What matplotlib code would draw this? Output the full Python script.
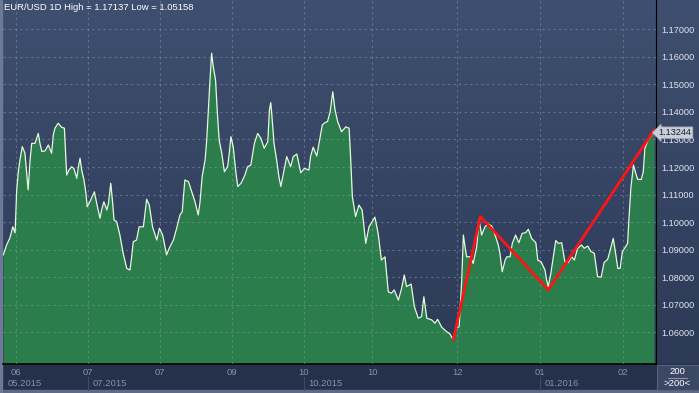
import numpy as np
import matplotlib.pyplot as plt
from matplotlib.patches import Rectangle
from matplotlib.colors import LinearSegmentedColormap

# EUR/USD daily closes, position in bars from the left edge of the chart
bar_pos = [0.1, 1.1, 2.1, 3.0, 3.7, 4.2, 4.7, 5.2, 5.9, 6.7, 7.3, 7.7, 8.3, 8.8, 9.8,
           10.3, 10.8, 11.3, 11.9, 12.9, 13.9, 14.9, 15.4, 15.9, 16.9, 18.0, 18.8, 19.5,
           20.2, 21.0, 21.7, 22.6, 23.1, 23.6, 24.1, 24.8, 25.4, 25.8, 26.6, 28.0, 28.7,
           29.7, 30.2, 30.9, 31.8, 32.3, 33.0, 33.6, 34.0, 34.8, 35.8, 36.8, 37.9, 38.9,
           39.4, 39.9, 40.9, 41.7, 43.0, 44.0, 44.8, 45.8, 47.1, 47.9, 48.9, 50.1, 50.9,
           52.2, 53.2, 54.2, 54.9, 55.7, 56.8, 57.8, 58.8, 59.8, 60.3, 61.0, 61.9, 62.4,
           62.9, 63.4, 63.9, 64.4, 65.1, 65.6, 66.2, 67.0, 67.8, 68.8, 69.3, 69.8, 70.5,
           71.3, 71.9, 72.9, 74.1, 74.9, 75.9, 77.0, 78.0, 79.0, 80.0, 81.1, 81.6, 82.0,
           82.3, 83.0, 83.8, 84.5, 85.1, 85.9, 86.9, 88.1, 88.9, 90.0, 91.2, 92.3, 93.7,
           94.2, 95.0, 96.1, 96.8, 97.8, 98.6, 99.4, 100.2, 101.0, 101.7, 102.5, 103.7,
           105.0, 106.0, 106.5, 107.0, 108.0, 109.0, 110.0, 111.1, 112.1, 113.9, 114.9,
           115.9, 117.0, 118.0, 119.0, 119.8, 121.1, 122.1, 122.9, 123.6, 125.0, 126.0,
           127.2, 128.2, 128.9, 129.8, 131.3, 132.3, 133.1, 134.4, 135.9, 136.9, 137.9,
           138.7, 139.7, 140.5, 141.0, 141.5, 142.0, 143.2, 144.0, 145.1, 145.8, 146.6,
           147.6, 148.6, 149.7, 150.7, 151.7, 152.2, 152.9, 153.8, 154.3, 155.3, 156.0,
           157.0, 158.0, 159.0, 160.1, 160.9, 161.9, 163.2, 163.8, 164.8, 166.0, 166.5,
           167.0, 167.8, 168.5, 169.3, 170.1, 171.1, 172.1, 173.1, 174.2, 175.0, 176.0,
           177.2, 178.0, 179.1, 180.1, 181.1, 182.1, 183.2, 184.1, 185.2, 186.0, 186.9,
           187.7, 188.3, 189.0, 189.7, 190.7, 191.3, 191.7, 192.3, 193.1, 193.8, 194.4,
           195.5, 196.1, 196.6, 197.6, 198.7, 199.4]
close = [1.0881, 1.0917, 1.0942, 1.0983, 1.0961, 1.1117, 1.1183, 1.1226, 1.1274, 1.1251,
         1.1171, 1.1117, 1.1226, 1.1286, 1.1286, 1.1304, 1.1322, 1.1287, 1.1256, 1.1259,
         1.1280, 1.1250, 1.1316, 1.1341, 1.1359, 1.1344, 1.1341, 1.1171, 1.1189, 1.1201,
         1.1195, 1.1159, 1.1201, 1.1232, 1.1189, 1.1153, 1.1105, 1.1056, 1.1074, 1.1110,
         1.1068, 1.1014, 1.1044, 1.1074, 1.1044, 1.1068, 1.1141, 1.1068, 1.1008, 1.1002,
         1.0953, 1.0887, 1.0832, 1.0826, 1.0874, 1.0929, 1.0935, 1.0983, 1.0983, 1.1083,
         1.1062, 1.0983, 1.0935, 1.0978, 1.0953, 1.0881, 1.0905, 1.0935, 1.0978, 1.1026,
         1.1038, 1.1153, 1.1147, 1.1110, 1.1074, 1.1026, 1.1068, 1.1165, 1.1226, 1.1298,
         1.1407, 1.1516, 1.1613, 1.1564, 1.1516, 1.1407, 1.1298, 1.1250, 1.1183, 1.1201,
         1.1250, 1.1310, 1.1274, 1.1183, 1.1129, 1.1141, 1.1171, 1.1201, 1.1207, 1.1286,
         1.1322, 1.1304, 1.1268, 1.1292, 1.1407, 1.1434, 1.1395, 1.1286, 1.1226, 1.1165,
         1.1129, 1.1177, 1.1238, 1.1201, 1.1238, 1.1247, 1.1179, 1.1195, 1.1189, 1.1238,
         1.1272, 1.1240, 1.1286, 1.1353, 1.1361, 1.1365, 1.1401, 1.1473, 1.1407, 1.1365,
         1.1328, 1.1346, 1.1341, 1.1226, 1.1092, 1.1020, 1.1062, 1.1044, 1.0923, 1.0983,
         1.1018, 1.0959, 1.0862, 1.0874, 1.0747, 1.0742, 1.0754, 1.0717, 1.0760, 1.0808,
         1.0766, 1.0775, 1.0693, 1.0651, 1.0657, 1.0729, 1.0651, 1.0645, 1.0633, 1.0647,
         1.0618, 1.0602, 1.0594, 1.0572, 1.0615, 1.0620, 1.0790, 1.0953, 1.0911, 1.0874,
         1.0874, 1.0850, 1.0911, 1.1008, 1.0953, 1.0983, 1.0993, 1.0986, 1.0953, 1.0917,
         1.0887, 1.0820, 1.0862, 1.0874, 1.0874, 1.0923, 1.0953, 1.0925, 1.0959, 1.0962,
         1.0974, 1.0941, 1.0925, 1.0862, 1.0856, 1.0826, 1.0790, 1.0766, 1.0814, 1.0869,
         1.0933, 1.0923, 1.0925, 1.0856, 1.0853, 1.0874, 1.0862, 1.0905, 1.0917, 1.0905,
         1.0913, 1.0893, 1.0887, 1.0802, 1.0800, 1.0853, 1.0865, 1.0899, 1.0941, 1.0881,
         1.0832, 1.0832, 1.0893, 1.0911, 1.0923, 1.1008, 1.1123, 1.1207, 1.1177, 1.1155,
         1.1155, 1.1183, 1.1268, 1.1298, 1.1316, 1.13244]

# red zig-zag drawn on the chart
zig_pos = [137.9, 146.2, 167.0, 199.4]
zig_val = [1.0572, 1.1020, 1.0754, 1.1334]

price_ticks = [1.06, 1.07, 1.08, 1.09, 1.10, 1.11, 1.12, 1.13, 1.14, 1.15, 1.16, 1.17]
tick_pos = [3.9, 25.9, 48.0, 70.0, 92.1, 113.1, 139.1, 164.5, 190.0]
tick_labels = ['06', '07', '07', '09', '10', '10', '12', '01', '02']
period_pos = [0, 25.9, 92.1, 164.5]
period_labels = ['05.2015', '07.2015', '10.2015', '01.2016']
last_price = 1.13244
n_bars = 200

plt.rcParams['font.family'] = ['Liberation Sans', 'DejaVu Sans']

W, H = 699, 393
fig = plt.figure(figsize=(W / 100, H / 100), dpi=100)

# background layer in pixel coordinates
bg = fig.add_axes([0, 0, 1, 1])
bg.set_xlim(0, W)
bg.set_ylim(H, 0)
bg.axis('off')
grad = LinearSegmentedColormap.from_list('bg', ['#3f4f6f', '#2c3a57'])
bg.imshow(np.linspace(0, 1, 256).reshape(-1, 1), cmap=grad, extent=[0, W, 364, 0], aspect='auto')
bg.add_patch(Rectangle((0, 364), W, 27, color='#25304b'))
bg.add_patch(Rectangle((0, 390), W, 3, color='#5e6a86'))
bg.add_patch(Rectangle((0, 0), 2, H, color='#6d7a96'))
bg.add_patch(Rectangle((657, 364.5), 42, 25.5, facecolor='#3a4765', edgecolor='#55627e', lw=0.8))
bg.text(677, 371, str(n_bars), color='white', fontsize=6.8, ha='center', va='center')
bg.plot([668, 687], [377.5, 377.5], color='#9aa4bb', lw=0.6)
bg.text(677, 384, '>%d<' % n_bars, color='white', fontsize=6.8, ha='center', va='center')

ax = fig.add_axes([3 / W, 29 / H, 653 / W, 364 / H])
ax.patch.set_alpha(0)
lo, hi = 1.04849, 1.18064
ax.set_xlim(0, n_bars)
ax.set_ylim(lo, hi)

ax.fill_between(bar_pos, lo, close, color='#2b7d4c', lw=0, zorder=2)
ax.plot(bar_pos, close, color='#e4fadc', lw=0.9, zorder=3)
ax.plot(zig_pos, zig_val, color='#ff1414', lw=2, zorder=4, solid_capstyle='round')

ax.set_axisbelow(False)
ax.grid(True, color='#8c9cbb', alpha=0.5, lw=0.8, ls=(0, (2, 3)))

for s in ['top', 'left']:
    ax.spines[s].set_visible(False)
ax.spines['right'].set_color('black')
ax.spines['bottom'].set_color('black')
ax.spines['bottom'].set_linewidth(1.2)

ax.yaxis.tick_right()
ax.set_yticks(price_ticks, ['%.5f' % v for v in price_ticks])
ax.tick_params(axis='y', length=0, pad=4, labelcolor='#e2e6ef', labelsize=6.6)
ax.set_xticks(tick_pos, tick_labels)
ax.tick_params(axis='x', length=0, pad=3, labelcolor='#8490ae', labelsize=6.8)

tr = ax.get_xaxis_transform()
for p, lab in zip(period_pos, period_labels):
    if p > 0:
        ax.plot([p, p], [-0.036, -0.072], transform=tr, color='#3d4a69', lw=0.8, clip_on=False)
    ax.text(p + 1.5, -0.054, lab, transform=tr, color='#8490ae', fontsize=6.8,
            ha='left', va='center')

ax.text(1.004, last_price, '%.5f' % last_price, transform=ax.get_yaxis_transform(),
        color='#1b2232', fontsize=6.6, ha='left', va='center', zorder=6,
        bbox=dict(boxstyle='larrow,pad=0.15', facecolor='#c9ced8', edgecolor='#9aa2b4', lw=0.5))

fig.text(4 / W, 1 - 8 / H, 'EUR/USD 1D High = 1.17137 Low = 1.05158', color='white',
         fontsize=6.8, ha='left', va='center')

fig.savefig('out.png', dpi=100)
